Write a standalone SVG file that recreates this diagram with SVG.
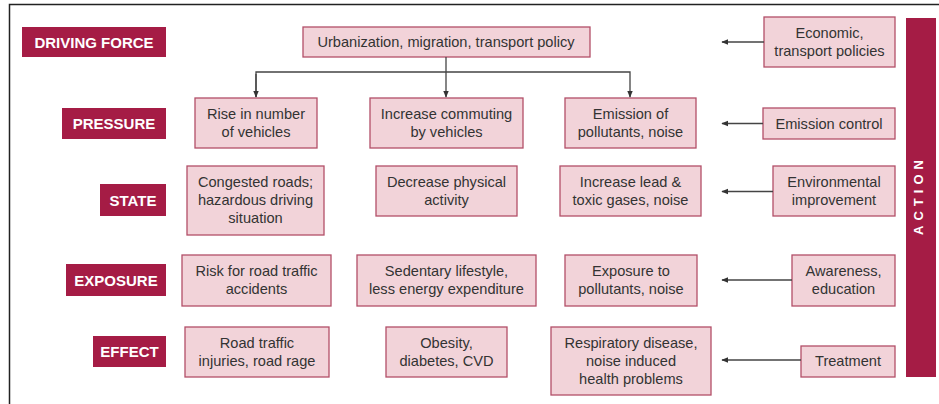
<svg xmlns="http://www.w3.org/2000/svg" width="939" height="404" viewBox="0 0 939 404">
<defs>
<style>
.lab rect{fill:#a51c45}
.lab text{fill:#fff;font-family:"Liberation Sans",Arial,sans-serif;font-weight:bold;font-size:15px;text-anchor:middle}
.box rect{fill:#f2d3d9;stroke:#b24f68;stroke-width:1.3}
.box text{fill:#333;font-family:"Liberation Sans",Arial,sans-serif;font-size:14.6px;text-anchor:middle}
.conn path{fill:none;stroke:#444;stroke-width:1.3}
</style>
<marker id="ah" viewBox="0 0 10 10" refX="9" refY="5" markerWidth="7" markerHeight="7" markerUnits="userSpaceOnUse" orient="auto">
<path d="M0,1 L10,5 L0,9 Z" fill="#333"/>
</marker>
</defs>
<rect width="939" height="404" fill="#fff"/>
<path d="M9.5,404 V4.5 H939" fill="none" stroke="#222" stroke-width="1.5"/>

<g id="lab-driving" class="lab"><rect x="22" y="27" width="144" height="30"/><text x="94" y="47.5">DRIVING FORCE</text></g>
<g id="lab-pressure" class="lab"><rect x="62" y="108" width="104" height="31"/><text x="114" y="129">PRESSURE</text></g>
<g id="lab-state" class="lab"><rect x="100" y="184" width="66" height="32"/><text x="133" y="205.5">STATE</text></g>
<g id="lab-exposure" class="lab"><rect x="66" y="264" width="100" height="32"/><text x="116" y="285.5">EXPOSURE</text></g>
<g id="lab-effect" class="lab"><rect x="93" y="336" width="73" height="31"/><text x="129.5" y="357">EFFECT</text></g>

<g id="action" class="lab"><rect x="906" y="18" width="30" height="359"/><text transform="translate(923,195) rotate(-90)" style="font-size:13px;letter-spacing:5px">ACTION</text></g>

<g id="urban" class="box"><rect x="303" y="27" width="287" height="30"/><text x="446" y="47">Urbanization, migration, transport policy</text></g>

<g id="p1" class="box"><rect x="195" y="98" width="122" height="50"/><text x="256" y="119">Rise in number</text><text x="256" y="137">of vehicles</text></g>
<g id="p2" class="box"><rect x="370" y="98" width="153" height="50"/><text x="446.5" y="119">Increase commuting</text><text x="446.5" y="137">by vehicles</text></g>
<g id="p3" class="box"><rect x="565" y="98" width="131" height="50"/><text x="630.5" y="119">Emission of</text><text x="630.5" y="137">pollutants, noise</text></g>

<g id="s1" class="box"><rect x="187" y="166" width="137" height="69"/><text x="255.5" y="187">Congested roads;</text><text x="255.5" y="205">hazardous driving</text><text x="255.5" y="223">situation</text></g>
<g id="s2" class="box"><rect x="376" y="166" width="141" height="50"/><text x="446.5" y="187">Decrease physical</text><text x="446.5" y="205">activity</text></g>
<g id="s3" class="box"><rect x="560" y="166" width="141" height="50"/><text x="630.5" y="187">Increase lead &amp;</text><text x="630.5" y="205">toxic gases, noise</text></g>

<g id="e1" class="box"><rect x="182" y="255" width="149" height="51"/><text x="256.5" y="276">Risk for road traffic</text><text x="256.5" y="294">accidents</text></g>
<g id="e2" class="box"><rect x="357" y="255" width="179" height="51"/><text x="446.5" y="276">Sedentary lifestyle,</text><text x="446.5" y="294">less energy expenditure</text></g>
<g id="e3" class="box"><rect x="565" y="255" width="132" height="51"/><text x="631" y="276">Exposure to</text><text x="631" y="294">pollutants, noise</text></g>

<g id="f1" class="box"><rect x="185" y="327" width="144" height="50"/><text x="257" y="348">Road traffic</text><text x="257" y="366">injuries, road rage</text></g>
<g id="f2" class="box"><rect x="386" y="327" width="121" height="50"/><text x="446.5" y="348">Obesity,</text><text x="446.5" y="366">diabetes, CVD</text></g>
<g id="f3" class="box"><rect x="551" y="327" width="160" height="68"/><text x="631" y="348">Respiratory disease,</text><text x="631" y="366">noise induced</text><text x="631" y="384">health problems</text></g>

<g id="a1" class="box"><rect x="764" y="17" width="131" height="50"/><text x="829.5" y="38">Economic,</text><text x="829.5" y="56">transport policies</text></g>
<g id="a2" class="box"><rect x="763" y="108" width="132" height="31"/><text x="829" y="128.5">Emission control</text></g>
<g id="a3" class="box"><rect x="773" y="166" width="122" height="50"/><text x="834" y="187">Environmental</text><text x="834" y="205">improvement</text></g>
<g id="a4" class="box"><rect x="792" y="255" width="103" height="51"/><text x="843.5" y="276">Awareness,</text><text x="843.5" y="294">education</text></g>
<g id="a5" class="box"><rect x="801" y="346" width="94" height="31"/><text x="848" y="366">Treatment</text></g>

<g id="connectors" class="conn">
<path d="M446,57 V97" marker-end="url(#ah)"/>
<path d="M256,97 V72 H630 V97" marker-end="url(#ah)"/>
<path d="M256,74 V97" marker-end="url(#ah)"/>
<path d="M764,42 H722" marker-end="url(#ah)"/>
<path d="M763,123.5 H722" marker-end="url(#ah)"/>
<path d="M773,191.5 H722" marker-end="url(#ah)"/>
<path d="M792,280 H722" marker-end="url(#ah)"/>
<path d="M801,360 H722" marker-end="url(#ah)"/>
</g>
</svg>
